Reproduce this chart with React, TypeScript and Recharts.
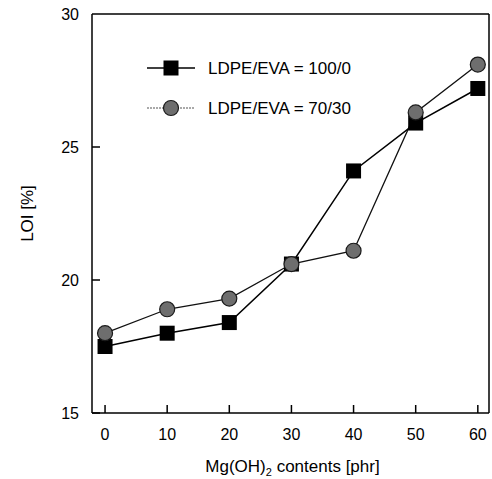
import { LineChart, Line, XAxis, YAxis, ReferenceLine } from 'recharts'

// ─── Data ─────────────────────────────────────────────────────────────────────

const contents = [0, 10, 20, 30, 40, 50, 60]
const loi100 = [17.5, 18.0, 18.4, 20.6, 24.1, 25.9, 27.2]
const loi70 = [18.0, 18.9, 19.3, 20.6, 21.1, 26.3, 28.1]
const xTicks = [0, 10, 20, 30, 40, 50, 60]
const yTicks = [15, 20, 25, 30]

const data = contents.map((c, i) => ({ c, a: loi100[i], b: loi70[i] }))

const FONT = '"Liberation Sans", Arial, sans-serif'
const X_DOMAIN: [number, number] = [-2.1, 61.8]
const Y_DOMAIN: [number, number] = [15, 30]

// ─── Markers ──────────────────────────────────────────────────────────────────

function SquareDot(props: any) {
  const { cx, cy } = props
  if (cx == null || cy == null) return null
  return <rect x={cx - 7.5} y={cy - 7.5} width={15} height={15} fill="#000" />
}

function CircleDot(props: any) {
  const { cx, cy } = props
  if (cx == null || cy == null) return null
  return <circle cx={cx} cy={cy} r={7.5} fill="#6e6e6e" stroke="#1a1a1a" strokeWidth={1.2} />
}

// ─── Inward ticks + labels ────────────────────────────────────────────────────

function XTick(props: any) {
  const { x, y, payload } = props
  return (
    <g>
      <line x1={x} y1={y} x2={x} y2={y - 8} stroke="#000" strokeWidth={1.5} />
      <text x={x} y={y + 27} textAnchor="middle" fontFamily={FONT} fontSize={16} fill="#000">
        {payload.value}
      </text>
    </g>
  )
}

function YTick(props: any) {
  const { x, y, payload } = props
  return (
    <g>
      {payload.value !== Y_DOMAIN[1] && (
        <line x1={x} y1={y} x2={x + 8} y2={y} stroke="#000" strokeWidth={1.5} />
      )}
      <text x={x - 13} y={y + 6} textAnchor="end" fontFamily={FONT} fontSize={16} fill="#000">
        {payload.value}
      </text>
    </g>
  )
}

function XLabel(props: any) {
  const { viewBox } = props
  const cx = viewBox.x + viewBox.width / 2
  return (
    <text x={cx + 2} y={472} textAnchor="middle" fontFamily={FONT} fontSize={17} fill="#000">
      Mg(OH)
      <tspan fontSize={11} dy={4}>2</tspan>
      <tspan dy={-4}> contents [phr]</tspan>
    </text>
  )
}

function LegendBox() {
  return (
    <svg width={240} height={70} style={{ position: 'absolute', left: 147, top: 58, overflow: 'visible' }}>
      <line x1={0} y1={10} x2={48} y2={10} stroke="#000" strokeWidth={1.5} />
      <rect x={16.5} y={2.5} width={15} height={15} fill="#000" />
      <text x={61} y={16} fontFamily={FONT} fontSize={17} fill="#000">LDPE/EVA = 100/0</text>
      <line x1={0} y1={50} x2={48} y2={50} stroke="#555" strokeWidth={1.2} strokeDasharray="2 1" />
      <circle cx={24} cy={50} r={7.5} fill="#6e6e6e" stroke="#1a1a1a" strokeWidth={1.2} />
      <text x={61} y={56} fontFamily={FONT} fontSize={17} fill="#000">LDPE/EVA = 70/30</text>
    </svg>
  )
}

export default function App() {
  return (
    <div style={{ position: 'absolute', left: 0, top: 0, width: 492, height: 479, background: '#fff' }}>
      <LineChart width={492} height={479} data={data} margin={{ top: 14, right: 3, left: 0, bottom: 0 }}>
        <XAxis
          type="number"
          dataKey="c"
          domain={X_DOMAIN}
          ticks={xTicks}
          allowDataOverflow
          height={66}
          stroke="#000"
          strokeWidth={1.5}
          tickLine={false}
          tickSize={0}
          tickMargin={0}
          tick={<XTick />}
          label={<XLabel />}
        />
        <YAxis
          type="number"
          domain={Y_DOMAIN}
          ticks={yTicks}
          width={92}
          stroke="#000"
          strokeWidth={1.5}
          tickLine={false}
          tickSize={0}
          tickMargin={0}
          tick={<YTick />}
          label={{ value: 'LOI [%]', angle: -90, position: 'insideLeft', offset: 27, style: { fontFamily: FONT, fontSize: 17, fill: '#000', textAnchor: 'middle' } }}
        />
        <ReferenceLine y={Y_DOMAIN[1]} stroke="#000" strokeWidth={1.5} />
        <ReferenceLine x={X_DOMAIN[1]} stroke="#000" strokeWidth={1.5} />
        <Line dataKey="a" stroke="#000" strokeWidth={1.5} dot={<SquareDot />} isAnimationActive={false} />
        <Line dataKey="b" stroke="#111" strokeWidth={1.3} dot={<CircleDot />} isAnimationActive={false} />
      </LineChart>
      <LegendBox />
    </div>
  )
}
